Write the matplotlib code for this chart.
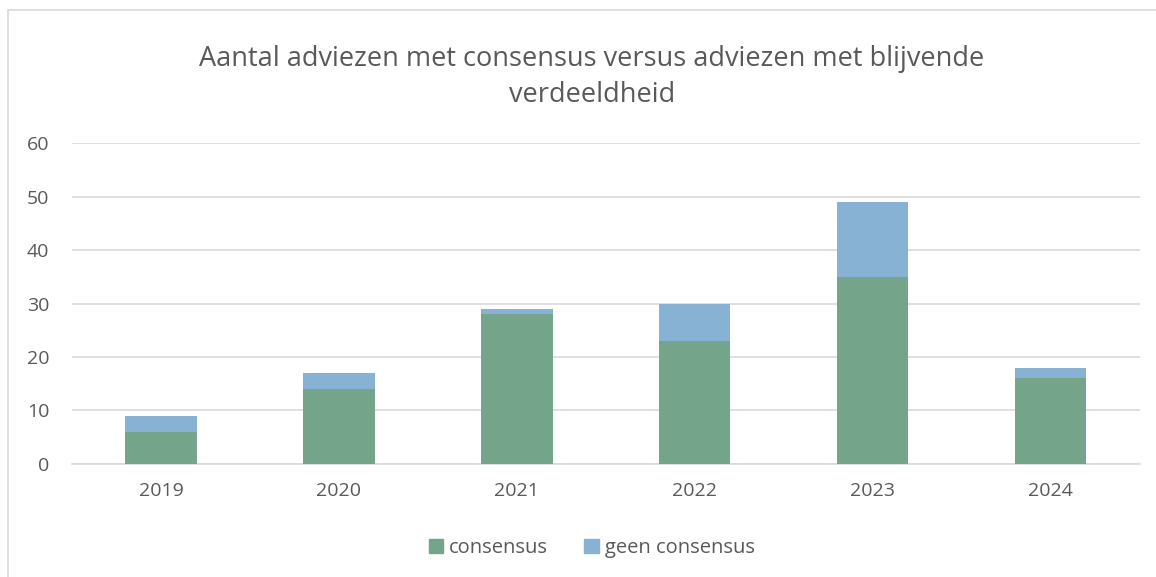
import matplotlib.pyplot as plt
import numpy as np
from matplotlib.patches import Rectangle, Patch

# --- Data ---
years = ['2019', '2020', '2021', '2022', '2023', '2024']
consensus = [6, 14, 28, 23, 35, 16]
geen_consensus = [3, 3, 1, 7, 14, 2]

green = '#74A58B'
blue = '#88B2D4'
text_grey = '#595959'

plt.rcParams['font.family'] = ['Open Sans', 'DejaVu Sans']

fig = plt.figure(figsize=(11.56, 5.77), dpi=100)
ax = fig.add_axes([0.0623, 0.196, 0.9237, 0.556])

# outer chart frame (cropped at right and bottom)
fig.patches.append(Rectangle((8 / 1156, -0.1), 1.2, 1 - 10 / 577 + 0.1,
                             transform=fig.transFigure, fill=False,
                             edgecolor='#D9D9D9', linewidth=1.2))

x = np.arange(len(years))
ax.bar(x, consensus, width=0.4, color=green, label='consensus', zorder=3)
ax.bar(x, geen_consensus, width=0.4, bottom=consensus, color=blue,
       label='geen consensus', zorder=3)

ax.set_xlim(-0.5, len(years) - 0.5)
ax.set_ylim(0, 60)
ax.set_yticks(range(0, 61, 10))
ax.set_xticks(x)
ax.set_xticklabels(years)
ax.grid(axis='y', color='#D9D9D9', linewidth=1.2, zorder=0)
for s in ['top', 'right', 'left']:
    ax.spines[s].set_visible(False)
ax.spines['bottom'].set_color('#D9D9D9')
ax.spines['bottom'].set_linewidth(1.2)
ax.tick_params(axis='both', length=0, labelsize=14, colors=text_grey)
ax.tick_params(axis='y', pad=16.5)
ax.tick_params(axis='x', pad=13)

fig.text(0.512, 0.867, 'Aantal adviezen met consensus versus adviezen met blijvende\nverdeeldheid',
         ha='center', va='center', fontsize=19.5, color=text_grey, linespacing=1.4)

handles = [Patch(color=green, label='consensus'), Patch(color=blue, label='geen consensus')]
fig.legend(handles=handles, loc='center', bbox_to_anchor=(0.512, 0.05), ncol=2,
           frameon=False, fontsize=14.5, handlelength=0.7, handleheight=0.7,
           handletextpad=0.3, columnspacing=1.8, labelcolor=text_grey)

fig.savefig('out.png', dpi=100)
